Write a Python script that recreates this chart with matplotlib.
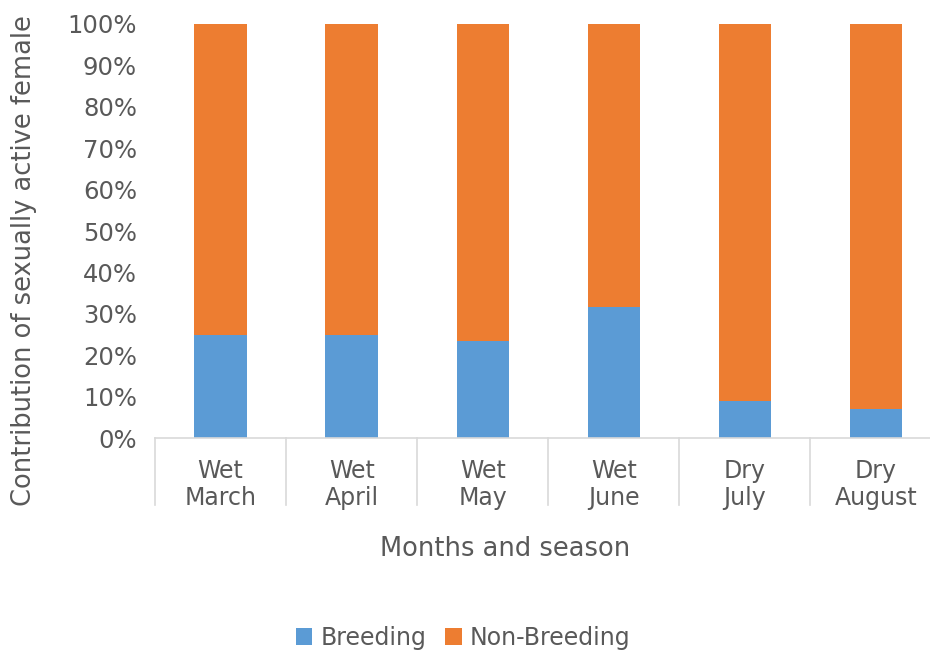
import numpy as np
import matplotlib.pyplot as plt

# share of sexually active females by month (%)
seasons = ['Wet', 'Wet', 'Wet', 'Wet', 'Dry', 'Dry']
months = ['March', 'April', 'May', 'June', 'July', 'August']
breeding = [25, 25, 23.4, 31.6, 9, 7]
non_breeding = [100 - b for b in breeding]

blue = '#5b9bd5'
orange = '#ed7d31'
grey = '#595959'
line = '#d9d9d9'

plt.rcParams['font.family'] = 'DejaVu Sans'

fig = plt.figure(figsize=(9.3, 6.52), dpi=100)
ax = fig.add_axes([0.1667, 0.3282, 0.8457, 0.635])

x = np.arange(len(months))
ax.bar(x, breeding, width=0.4, color=blue, label='Breeding')
ax.bar(x, non_breeding, width=0.4, bottom=breeding, color=orange, label='Non-Breeding')

ax.set_xlim(-0.5, len(months) - 0.5)
ax.set_ylim(0, 100)
ax.set_yticks(np.arange(0, 101, 10))
ax.set_yticklabels([f'{v}%' for v in range(0, 101, 10)], fontsize=17.5, color=grey)
ax.tick_params(axis='y', length=0, pad=13)
ax.set_xticks([])

for s in ['top', 'right', 'left']:
    ax.spines[s].set_visible(False)
ax.spines['bottom'].set_color(line)
ax.spines['bottom'].set_linewidth(1.2)

# category separators below the axis
for b in np.arange(len(months) + 1) - 0.5:
    ax.plot([b, b], [0, -16.2], color=line, lw=1.2, clip_on=False)

for i, (s, m) in enumerate(zip(seasons, months)):
    ax.text(i, -8.0, s, ha='center', va='center', fontsize=17, color=grey)
    ax.text(i, -14.5, m, ha='center', va='center', fontsize=17, color=grey)

fig.text(505 / 930, 1 - 549 / 652, 'Months and season', ha='center', va='center',
         fontsize=18.5, color=grey)
fig.text(24 / 930, 1 - 261 / 652, 'Contribution of sexually active female',
         rotation=90, ha='center', va='center', fontsize=18.5, color=grey)

fig.legend(loc='center', bbox_to_anchor=(463 / 930, 1 - 638 / 652), ncol=2,
           frameon=False, fontsize=17, labelcolor=grey, handlelength=0.7,
           handleheight=0.7, handletextpad=0.35, columnspacing=0.8)

fig.savefig('out.png', dpi=100)
